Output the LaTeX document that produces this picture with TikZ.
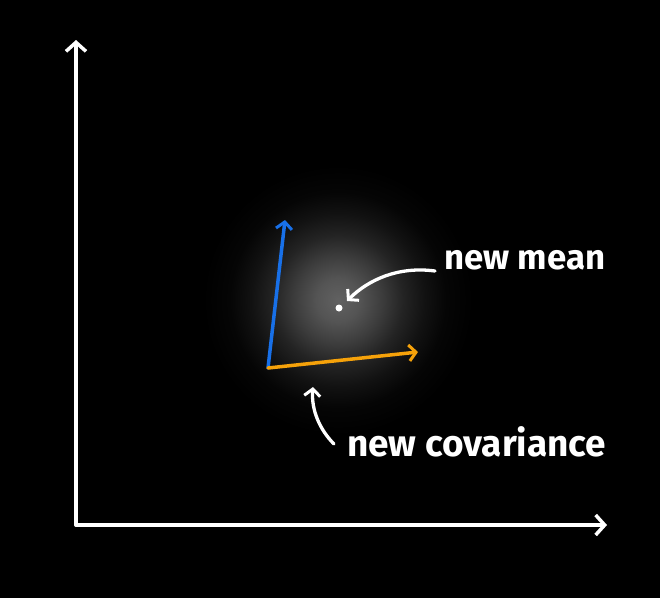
\documentclass[tikz,border=0pt]{standalone}
\usepackage{fontspec}
\setmainfont{Fira Sans}
\usetikzlibrary{arrows.meta}
\definecolor{vblue}{RGB}{24,112,232}
\definecolor{vorange}{RGB}{246,162,10}
\pgfdeclareradialshading{glow}{\pgfpoint{0bp}{0bp}}{color(0bp)=(black!62); color(4bp)=(black!67); color(8bp)=(black!76); color(12bp)=(black!86); color(16bp)=(black!93); color(20bp)=(black!98); color(25bp)=(black); color(50bp)=(black)}
\tikzset{
  chalk/.style={line width=3.5pt, line cap=round, line join=round, white},
  barb/.style={-{Straight Barb[length=9pt,width=20pt,line width=3.5pt]}},
  smallbarb/.style={-{Straight Barb[length=7pt,width=16pt,line width=3pt]}},
  lbl/.style={white, font=\fontsize{33}{33}\selectfont\bfseries, inner sep=0pt, anchor=west}
}
\begin{document}
\begin{tikzpicture}[x=1pt,y=-1pt]
  \fill[black] (0,0) rectangle (660,598);
  \useasboundingbox (0,0) rectangle (660,598);
  \shade[shading=glow] (338,300) circle (135);
  \coordinate (O) at (76,525);
  \coordinate (ytop) at (76,40);
  \coordinate (xend) at (607,525);
  \draw[chalk, barb] (O) -- (ytop);
  \draw[chalk, barb] (O) -- (xend);
  \coordinate (c) at (268,368);
  \coordinate (bt) at (285,220);
  \coordinate (ot) at (418,352);
  \draw[chalk, vblue, smallbarb] (c) -- (bt);
  \draw[chalk, vorange, smallbarb] (c) -- (ot);
  \node[circle, fill=white, inner sep=0pt, minimum size=7pt] (mean) at (339,308) {};
  \node[lbl] (meanlbl) at (444,260) {\resizebox{161pt}{!}{new mean}};
  \node[lbl] (covlbl) at (347,442) {\resizebox{259pt}{!}{new covariance}};
  \coordinate (ms) at (435,271);
  \coordinate (mt) at (347,301);
  \draw[chalk, line width=3.3pt, smallbarb] (ms) .. controls (398,266) and (368,280) .. (mt);
  \coordinate (cs) at (334,444);
  \coordinate (ct) at (313,387);
  \draw[chalk, line width=3.3pt, smallbarb] (cs) .. controls (320,430) and (311,410) .. (ct);
\end{tikzpicture}
\end{document}
